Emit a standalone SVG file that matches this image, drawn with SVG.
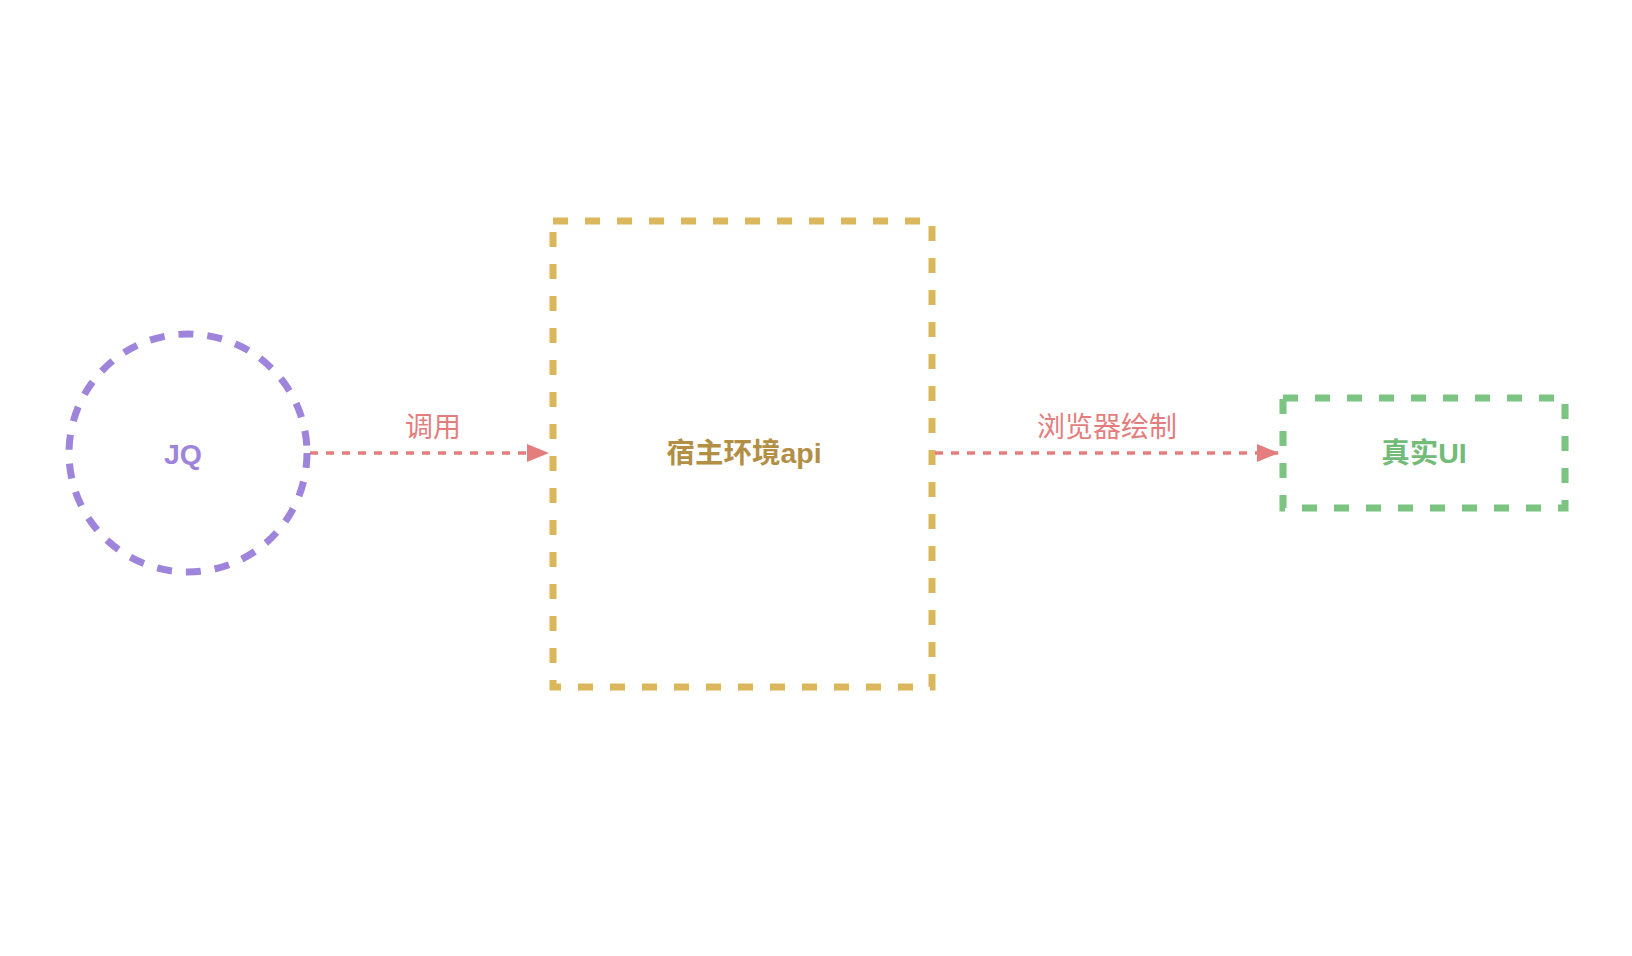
<svg xmlns="http://www.w3.org/2000/svg" width="1632" height="956" viewBox="0 0 1632 956">
  <style>
    .lbl { font-family: "Liberation Sans", "Noto Sans CJK SC", sans-serif; text-anchor: middle; dominant-baseline: central; }
    .node-text { font-weight: bold; font-size: 28.5px; }
    .edge-text { font-size: 28px; fill: #e47e7e; }
    .edge { stroke: #e47e7e; stroke-width: 3.5; stroke-dasharray: 8 8; fill: none; }
  </style>
  <defs>
    <marker id="arrow" viewBox="0 0 22 18" refX="21" refY="9" markerWidth="22" markerHeight="18" markerUnits="userSpaceOnUse" orient="auto">
      <path d="M0,0 L22,9 L0,18 Z" fill="#e47e7e"/>
    </marker>
  </defs>
  <rect width="1632" height="956" fill="#ffffff"/>
  <g id="node-jq">
    <circle cx="188" cy="453" r="119" fill="none" stroke="#9f84dc" stroke-width="7" stroke-dasharray="15 14"/>
    <text class="lbl node-text" x="183" y="454" fill="#9f84dc">JQ</text>
  </g>
  <g id="node-host">
    <rect x="553" y="221" width="379" height="466" fill="none" stroke="#dbb75c" stroke-width="7" stroke-dasharray="15 17"/>
    <text class="lbl node-text" x="744" y="453" fill="#b38f45">宿主环境api</text>
  </g>
  <g id="node-ui">
    <rect x="1283" y="398" width="282" height="110" fill="none" stroke="#7cc481" stroke-width="7" stroke-dasharray="15 17"/>
    <text class="lbl node-text" x="1424" y="453" fill="#73bb78">真实UI</text>
  </g>
  <g id="connectors">
    <line class="edge" x1="310" y1="453" x2="548" y2="453" marker-end="url(#arrow)"/>
    <text class="lbl edge-text" x="433" y="427">调用</text>
    <line class="edge" x1="935" y1="453" x2="1278" y2="453" marker-end="url(#arrow)"/>
    <text class="lbl edge-text" x="1107" y="427">浏览器绘制</text>
  </g>
</svg>
